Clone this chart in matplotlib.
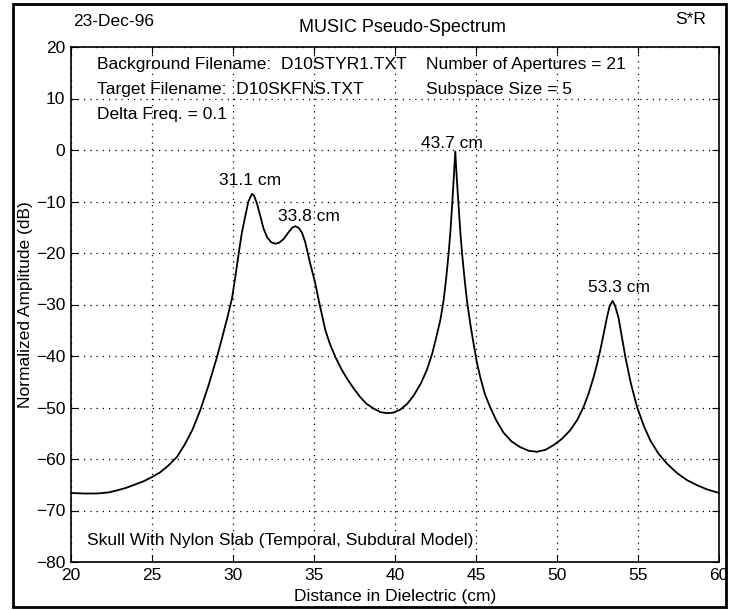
import matplotlib
matplotlib.use("Agg")
import matplotlib.pyplot as plt
from matplotlib.patches import Rectangle

plt.rcParams['font.family'] = ['Liberation Sans', 'DejaVu Sans']

# Dades llegides del gràfic
distance = [20.0, 20.8, 21.6, 22.3, 22.84, 23.4, 24.0, 24.5, 25.0, 25.5,
            26.0, 26.54, 27.0, 27.5, 27.98, 28.5, 29.01, 29.3, 29.63, 29.94,
            30.15, 30.35, 30.55, 30.76, 30.95, 31.17, 31.3, 31.48, 31.7, 31.89,
            32.1, 32.35, 32.61, 32.85, 33.12, 33.4, 33.65, 33.85, 34.05, 34.25,
            34.45, 34.77, 35.08, 35.3, 35.7, 36.0, 36.32, 36.7, 37.04, 37.45,
            37.86, 38.25, 38.68, 39.1, 39.51, 39.9, 40.33, 40.75, 41.15, 41.6,
            41.98, 42.3, 42.59, 42.8, 43.0, 43.15, 43.31, 43.42, 43.52, 43.62,
            43.72, 43.82, 43.93, 44.03, 44.14, 44.3, 44.44, 44.65, 44.85, 45.05,
            45.27, 45.55, 45.88, 46.25, 46.7, 47.2, 47.73, 48.25, 48.77, 49.3,
            49.79, 50.3, 50.82, 51.25, 51.64, 51.95, 52.26, 52.47, 52.67, 52.9,
            53.09, 53.25, 53.43, 53.6, 53.8, 54.0, 54.22, 54.55, 54.94, 55.35,
            55.76, 56.25, 56.79, 57.4, 58.02, 58.65, 59.26, 60.0]
amplitude = [-66.6, -66.7, -66.7, -66.5, -66.1, -65.6, -64.9, -64.3, -63.5, -62.6,
             -61.3, -59.6, -57.3, -54.3, -50.5, -45.6, -40.2, -36.8, -32.8, -28.8,
             -24.5, -20.1, -16.0, -12.8, -10.0, -8.5, -8.9, -10.4, -13.0, -15.3,
             -16.9, -17.9, -18.2, -18.0, -17.3, -16.1, -15.1, -14.8, -15.1, -16.0,
             -17.8, -22.1, -25.9, -29.3, -35.0, -37.8, -40.2, -42.6, -44.4, -46.3,
             -48.0, -49.3, -50.2, -50.9, -51.1, -51.0, -50.4, -49.3, -47.7, -45.3,
             -42.6, -39.5, -35.8, -33.0, -29.2, -25.2, -20.1, -15.8, -11.1, -5.8,
             -0.3, -5.8, -11.1, -15.8, -20.1, -25.2, -29.2, -33.8, -37.6, -41.2,
             -44.2, -47.4, -50.0, -52.5, -54.9, -56.6, -57.7, -58.4, -58.6, -58.2,
             -57.3, -56.1, -54.4, -52.4, -49.9, -47.3, -44.1, -41.6, -38.9, -35.4,
             -32.4, -30.3, -29.3, -30.4, -32.6, -36.2, -40.2, -45.2, -49.9, -53.5,
             -56.4, -58.9, -60.9, -62.7, -64.1, -65.1, -65.9, -66.6]

peak_labels = ["31.1 cm", "33.8 cm", "43.7 cm", "53.3 cm"]
peak_label_x = [31.07, 34.71, 43.49, 53.85]
peak_label_y = [-5.9, -13.0, 1.3, -26.7]

info_left = ["Background Filename:  D10STYR1.TXT",
             "Target Filename:  D10SKFNS.TXT",
             "Delta Freq. = 0.1"]
info_right = ["Number of Apertures = 21", "Subspace Size = 5"]

FS = 12.5
W, H = 729, 610
fig = plt.figure(figsize=(W / 100, H / 100), dpi=100)
ax = fig.add_axes([71 / W, 1 - 562 / H, (719 - 71) / W, (562 - 47) / H])

ax.plot(distance, amplitude, color="black", linewidth=1.3)

ax.set_xlim(20, 60)
ax.set_ylim(-80, 20)
ax.set_xticks(range(20, 61, 5))
ax.set_yticks(range(-80, 21, 10))
ax.grid(True, color="black", linestyle=(0, (1, 4)), linewidth=0.9)
ax.tick_params(direction="in", length=5, top=True, right=True,
               labelsize=FS, pad=4)
for s in ax.spines.values():
    s.set_linewidth(1.2)

ax.set_xlabel("Distance in Dielectric (cm)", fontsize=FS, labelpad=5)
ax.set_ylabel("Normalized Amplitude (dB)", fontsize=FS, labelpad=2)

# Etiquetes dels pics
for t, x, y in zip(peak_labels, peak_label_x, peak_label_y):
    ax.text(x, y, t, fontsize=FS, ha="center", va="center")

# Textos d'informació
for i, t in enumerate(info_left):
    ax.text(21.6, 16.6 - i * 4.85, t, fontsize=FS, va="center")
for i, t in enumerate(info_right):
    ax.text(41.9, 16.6 - i * 4.85, t, fontsize=FS, va="center")
ax.text(21.0, -75.8, "Skull With Nylon Slab (Temporal, Subdural Model)",
        fontsize=FS, va="center")

# Capçalera
fig.text(73 / W, 1 - 22 / H, "23-Dec-96", fontsize=FS, va="center")
fig.text(402 / W, 1 - 28 / H, "MUSIC Pseudo-Spectrum", fontsize=13,
         ha="center", va="center")
fig.text(706 / W, 1 - 20 / H, "S*R", fontsize=FS, ha="right", va="center")

# Marc exterior
fig.patches.append(Rectangle((13 / W, 3 / H), (726 - 13) / W, (607 - 4) / H,
                             transform=fig.transFigure, fill=False,
                             edgecolor="black", linewidth=2))

fig.savefig("out.png", dpi=100)
